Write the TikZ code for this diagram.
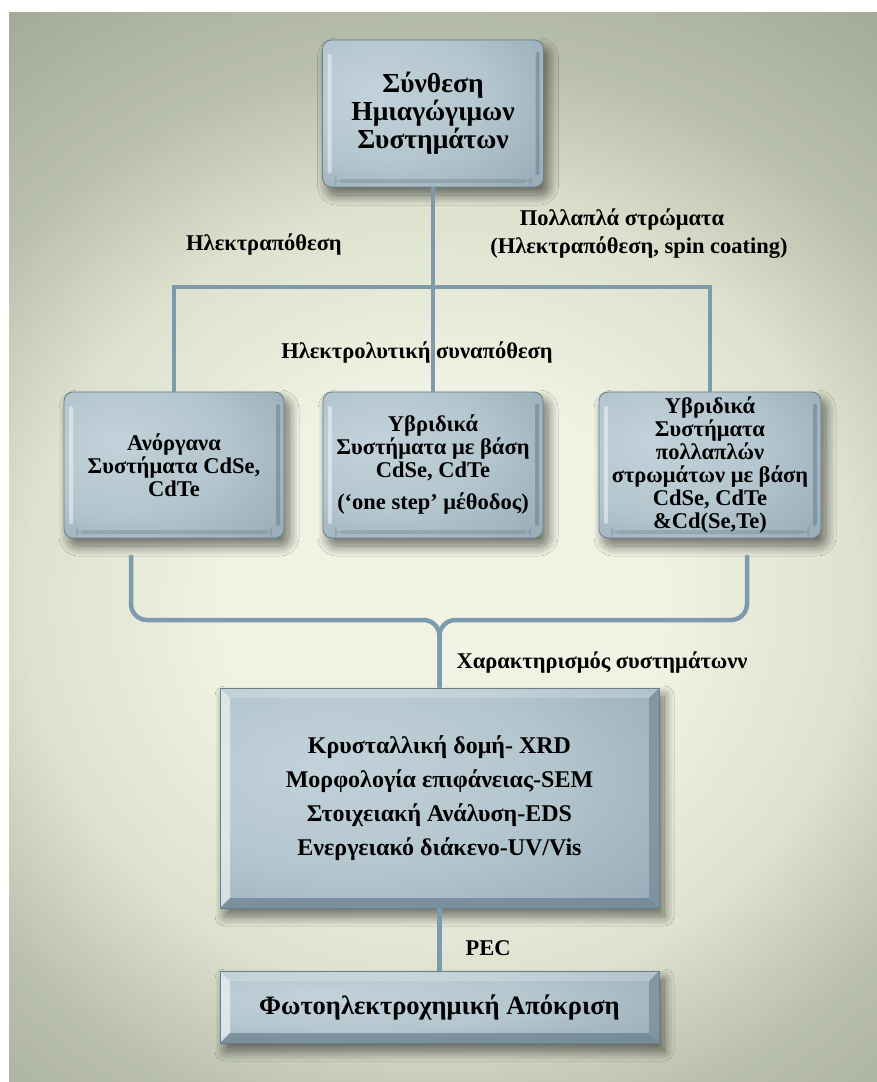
\documentclass[tikz,border=0pt]{standalone}
\usepackage{fontspec}
\setmainfont{Liberation Serif}
\usetikzlibrary{shadows.blur,calc}

\definecolor{bgin}{HTML}{F0F2E3}
\definecolor{bgmid}{HTML}{DDE1CE}
\definecolor{bgedge}{HTML}{BAC0AD}
\definecolor{bgout}{HTML}{9EA593}
\definecolor{boxin}{HTML}{C2D2DA}
\definecolor{boxout}{HTML}{7C94A1}
\definecolor{boxedge}{HTML}{687F8C}
\definecolor{connc}{HTML}{7D9BAD}

\pgfdeclareradialshading{boxshade}{\pgfpoint{-14bp}{8bp}}{%
  color(0bp)=(boxin); color(22bp)=(boxin!80!boxout); color(62bp)=(boxout); color(80bp)=(boxout)}

\tikzset{
  box/.style={draw=boxedge, line width=0.8pt, shading=boxshade, align=center,
    inner sep=0pt, minimum width=220pt, minimum height=146pt,
    font=\bfseries\fontsize{22.5}{23}\selectfont,
    blur shadow={shadow xshift=5pt, shadow yshift=-8pt, shadow blur radius=10pt,
      shadow blur steps=14, shadow opacity=55}},
  padbox/.style={box, rounded corners=9pt,
    path picture={
      \fill[white, opacity=.45, rounded corners=2pt]
        ([shift={(5pt,-14pt)}]path picture bounding box.north west) rectangle
        ([shift={(9pt,14pt)}]path picture bounding box.south west);
      \fill[boxedge, opacity=.55, rounded corners=2pt]
        ([shift={(-4pt,-12pt)}]path picture bounding box.north east) rectangle
        ([shift={(-8pt,12pt)}]path picture bounding box.south east);
      \fill[boxedge, opacity=.35]
        ([shift={(12pt,4pt)}]path picture bounding box.south west) rectangle
        ([shift={(-12pt,8pt)}]path picture bounding box.south east);
    }},
  bevelbox/.style={box, sharp corners,
    path picture={
      \coordinate (bnw) at (path picture bounding box.north west);
      \coordinate (bne) at (path picture bounding box.north east);
      \coordinate (bsw) at (path picture bounding box.south west);
      \coordinate (bse) at (path picture bounding box.south east);
      \fill[white, opacity=.55] (bnw) -- (bsw) -- ([shift={(10pt,10pt)}]bsw)
        -- ([shift={(10pt,-10pt)}]bnw) -- cycle;
      \fill[white, opacity=.22] (bnw) -- (bne) -- ([shift={(-10pt,-10pt)}]bne)
        -- ([shift={(10pt,-10pt)}]bnw) -- cycle;
      \fill[boxedge, opacity=.55] (bne) -- (bse) -- ([shift={(-10pt,10pt)}]bse)
        -- ([shift={(-10pt,-10pt)}]bne) -- cycle;
      \fill[boxedge, opacity=.7] (bsw) -- (bse) -- ([shift={(-10pt,10pt)}]bse)
        -- ([shift={(10pt,10pt)}]bsw) -- cycle;
    }},
  conn/.style={draw=connc, line width=4.5pt},
  lbl/.style={font=\bfseries\fontsize{22.5}{23}\selectfont, inner sep=0pt}
}

% one ring of the backdrop glow: radius #1, colour #2
\newcommand\glowring[2]{%
  \fill[fill=#2] (443,600) ellipse [x radius=1.32*#1 pt, y radius=1.25*#1 pt];}

\begin{document}
\begin{tikzpicture}[x=1pt,y=-1pt]
  \useasboundingbox (0,0) rectangle (877,1082);
  \fill[white] (0,0) rectangle (877,1082);
  % backdrop: grey-green frame with a cream glow in the middle
  \begin{scope}
    \clip (9,12) rectangle (877,1082);
    \fill[bgout] (9,12) rectangle (877,1082);
    \foreach \r in {615,610,...,435}{%
      \pgfmathsetmacro\t{(\r-435)/1.8}
      \glowring{\r}{bgout!\t!bgedge}}
    \foreach \r in {430,425,...,320}{%
      \pgfmathsetmacro\t{(\r-320)/1.15}
      \glowring{\r}{bgedge!\t!bgmid}}
    \foreach \r in {315,310,...,170}{%
      \pgfmathsetmacro\t{(\r-170)/1.5}
      \glowring{\r}{bgmid!\t!bgin}}
  \end{scope}

  % boxes
  \node[padbox, minimum width=221pt, minimum height=147pt,
        font=\bfseries\fontsize{27.5}{28}\selectfont] (top) at (433,113.5)
        {Σύνθεση\\Ημιαγώγιμων\\Συστημάτων};
  \node[padbox] (inorg) at (174,465) {Ανόργανα\\Συστήματα CdSe,\\CdTe};
  \node[padbox] (hyb) at (433,465)
        {Υβριδικά\\Συστήματα με βάση\\CdSe, CdTe\\[9pt](‘one step’ μέθοδος)};
  \node[padbox, minimum width=222pt] (multi) at (710,465)
        {Υβριδικά\\Συστήματα\\πολλαπλών\\στρωμάτων με βάση\\CdSe, CdTe\\\&Cd(Se,Te)};
  \node[bevelbox, minimum width=439pt, minimum height=220pt,
        font=\bfseries\fontsize{24}{34}\selectfont] (charac) at (439.5,798)
        {Κρυσταλλική δομή- XRD\\Μορφολογία επιφάνειας-SEM\\Στοιχειακή Ανάλυση-EDS\\Ενεργειακό διάκενο-UV/Vis};
  \node[bevelbox, minimum width=439pt, minimum height=72pt,
        font=\bfseries\fontsize{26.5}{28}\selectfont] (resp) at (439.5,1007)
        {Φωτοηλεκτροχημική Απόκριση};

  % connectors
  \coordinate (bus) at (433,287);
  \draw[conn] (top.south) -- (hyb.north);
  \draw[conn] (inorg.north) |- (bus) -| (multi.north);

  \coordinate (brL) at (131,555);
  \coordinate (brR) at (747,555);
  \coordinate (brM) at (439.5,620);
  \draw[conn, rounded corners=16pt] (brL) |- (charac.north |- brM) -- (charac.north);
  \draw[conn, rounded corners=16pt] (brR) |- (charac.north |- brM) -- (charac.north);

  \draw[conn] (charac.south) -- (resp.north);

  % labels
  \node[lbl] (lab1) at (264,245) {Ηλεκτραπόθεση};
  \node[lbl] (lab2) at (622,220) {Πολλαπλά στρώματα};
  \node[lbl] (lab3) at (639,248) {(Ηλεκτραπόθεση, spin coating)};
  \node[lbl] (lab4) at (417,353) {Ηλεκτρολυτική συναπόθεση};
  \node[lbl] (lab5) at (602,663) {Χαρακτηρισμός συστημάτωνν};
  \node[lbl] (lab6) at (488,948) {PEC};
\end{tikzpicture}
\end{document}
